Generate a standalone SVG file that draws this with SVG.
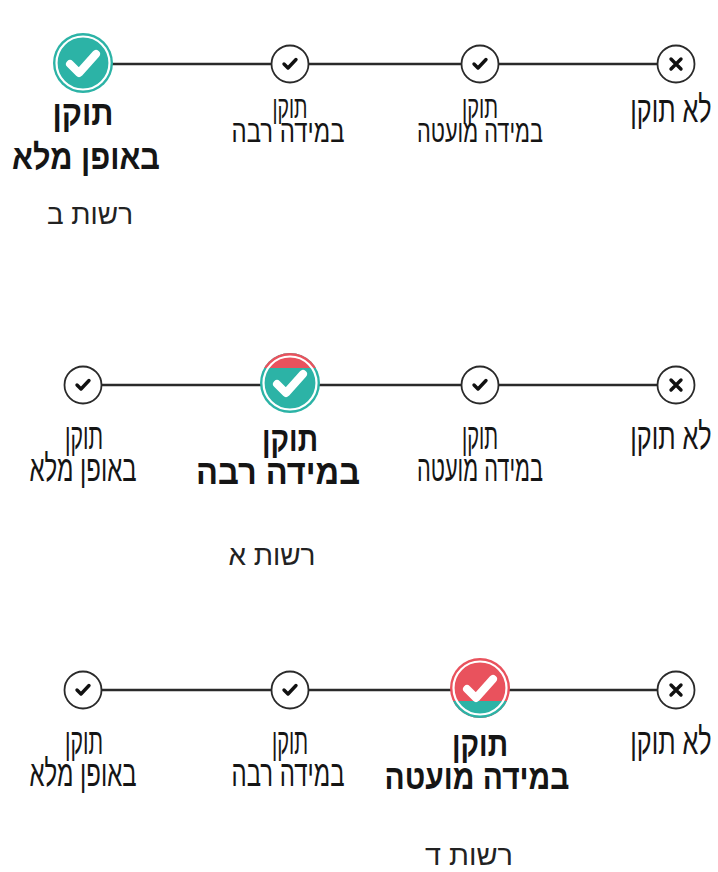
<svg xmlns="http://www.w3.org/2000/svg" width="718" height="872" viewBox="0 0 718 872">
<style>
.bg{fill:#ffffff}
.line{stroke:#2a2a2a;stroke-width:2.5;fill:none}
.sc{fill:#ffffff;stroke:#2a2a2a;stroke-width:1.8}
.ck{fill:none;stroke:#111;stroke-width:3.4;stroke-linecap:round;stroke-linejoin:round}
.bigck{fill:none;stroke:#ffffff;stroke-width:8;stroke-linecap:round;stroke-linejoin:round}
.ring{fill:none;stroke:#ffffff;stroke-width:2.2}
.teal{fill:#2cb3a6}
.red{fill:#e9525d}
.t{font-family:"Liberation Sans","DejaVu Sans",sans-serif;font-size:37px;fill:#151515;text-anchor:middle}
.s{font-size:31px}
.b{font-weight:bold;font-size:35px}
.r{font-size:28px;fill:#222}
</style>
<defs>
<g id="small-check">
<circle class="sc" r="18.5"/>
<path class="ck" d="M-6,0 L-2,4 L6,-4.5"/>
</g>
<g id="small-x">
<circle class="sc" r="18.5"/>
<path class="ck" d="M-5,-5 L5,5 M5,-5 L-5,5"/>
</g>
<clipPath id="c2"><circle cx="290" cy="383" r="30"/></clipPath>
<clipPath id="c3"><circle cx="480" cy="688" r="30"/></clipPath>
</defs>
<rect class="bg" width="718" height="872"/>
<g id="connectors">
<line class="line" x1="83" y1="64" x2="676" y2="64"/>
<line class="line" x1="83" y1="385" x2="676" y2="385"/>
<line class="line" x1="83" y1="690" x2="676" y2="690"/>
</g>
<!-- Row 1 -->
<g id="r1-full">
<circle class="teal" cx="83" cy="63" r="30"/>
<circle class="ring" cx="83" cy="63" r="26.5"/>
<path class="bigck" d="M70,64 L79,73 L96,54"/>
<text class="t b" x="83" y="125" textLength="61" lengthAdjust="spacingAndGlyphs">תוקן</text>
<text class="t b" x="86" y="169" textLength="148" lengthAdjust="spacingAndGlyphs">באופן מלא</text>
</g>
<g id="r1-large">
<use href="#small-check" x="290" y="64"/>
<text class="t s" x="290" y="118" textLength="35" lengthAdjust="spacingAndGlyphs">תוקן</text>
<text class="t s" x="288" y="142" textLength="113" lengthAdjust="spacingAndGlyphs">במידה רבה</text>
</g>
<g id="r1-small">
<use href="#small-check" x="480" y="64"/>
<text class="t s" x="480" y="118" textLength="36" lengthAdjust="spacingAndGlyphs">תוקן</text>
<text class="t s" x="480" y="142" textLength="126" lengthAdjust="spacingAndGlyphs">במידה מועטה</text>
</g>
<g id="r1-not">
<use href="#small-x" x="676" y="64"/>
<text class="t" transform="translate(671,122) scale(0.68,1)" x="0" y="0">לא תוקן</text>
</g>
<text class="t r" x="90" y="224" textLength="86" lengthAdjust="spacingAndGlyphs">רשות ב</text>
<!-- Row 2 -->
<g id="r2-full">
<use href="#small-check" x="83" y="385"/>
<text class="t" x="84" y="449" textLength="38" lengthAdjust="spacingAndGlyphs">תוקן</text>
<text class="t" x="83" y="481" textLength="107" lengthAdjust="spacingAndGlyphs">באופן מלא</text>
</g>
<g id="r2-large">
<circle class="teal" cx="290" cy="383" r="30"/>
<rect class="red" x="258" y="350" width="64" height="18" clip-path="url(#c2)"/>
<circle class="ring" cx="290" cy="383" r="26.5"/>
<path class="bigck" d="M277,384 L286,393 L303,374"/>
<text class="t b" x="290" y="451" textLength="56" lengthAdjust="spacingAndGlyphs">תוקן</text>
<text class="t b" x="278" y="484" textLength="164" lengthAdjust="spacingAndGlyphs">במידה רבה</text>
</g>
<g id="r2-small">
<use href="#small-check" x="480" y="385"/>
<text class="t" x="480" y="449" textLength="36" lengthAdjust="spacingAndGlyphs">תוקן</text>
<text class="t" x="480" y="481" textLength="126" lengthAdjust="spacingAndGlyphs">במידה מועטה</text>
</g>
<g id="r2-not">
<use href="#small-x" x="676" y="385"/>
<text class="t" transform="translate(671,449) scale(0.68,1)" x="0" y="0">לא תוקן</text>
</g>
<text class="t r" x="272" y="565" textLength="87" lengthAdjust="spacingAndGlyphs">רשות א</text>
<!-- Row 3 -->
<g id="r3-full">
<use href="#small-check" x="83" y="690"/>
<text class="t" x="84" y="754" textLength="38" lengthAdjust="spacingAndGlyphs">תוקן</text>
<text class="t" x="83" y="786" textLength="107" lengthAdjust="spacingAndGlyphs">באופן מלא</text>
</g>
<g id="r3-large">
<use href="#small-check" x="290" y="690"/>
<text class="t" x="290" y="754" textLength="36" lengthAdjust="spacingAndGlyphs">תוקן</text>
<text class="t" x="288" y="786" textLength="113" lengthAdjust="spacingAndGlyphs">במידה רבה</text>
</g>
<g id="r3-small">
<circle class="red" cx="480" cy="688" r="30"/>
<rect class="teal" x="448" y="701" width="64" height="20" clip-path="url(#c3)"/>
<circle class="ring" cx="480" cy="688" r="26.5"/>
<path class="bigck" d="M467,689 L476,698 L493,679"/>
<text class="t b" x="480" y="756" textLength="56" lengthAdjust="spacingAndGlyphs">תוקן</text>
<text class="t b" x="477" y="789" textLength="185" lengthAdjust="spacingAndGlyphs">במידה מועטה</text>
</g>
<g id="r3-not">
<use href="#small-x" x="676" y="690"/>
<text class="t" transform="translate(671,754) scale(0.68,1)" x="0" y="0">לא תוקן</text>
</g>
<text class="t r" x="469" y="865" textLength="88" lengthAdjust="spacingAndGlyphs">רשות ד</text>
</svg>
